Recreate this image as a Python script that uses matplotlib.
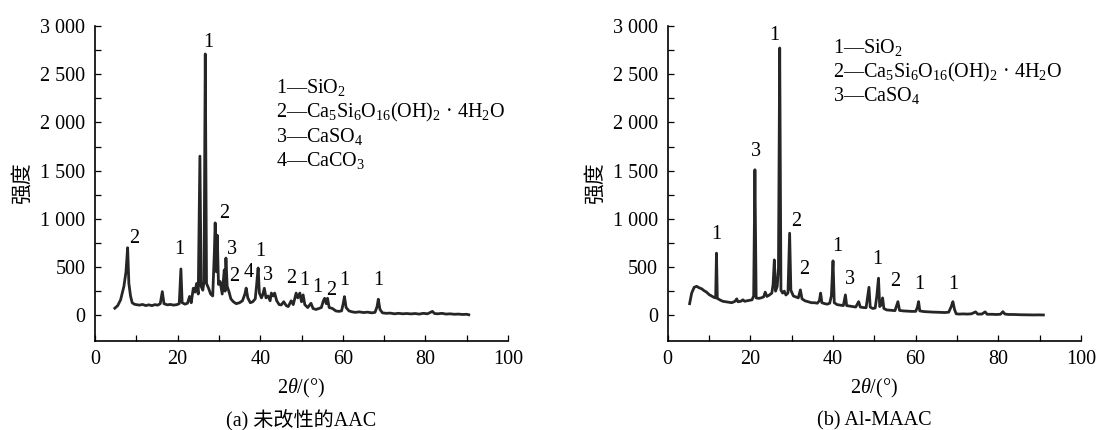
"""XRD patterns: unmodified AAC vs Al-MAAC (two panels)."""
import matplotlib
matplotlib.use("Agg")
import matplotlib.pyplot as plt
from matplotlib.ticker import FixedLocator, FuncFormatter

plt.rcParams["font.family"] = ["Liberation Serif", "Noto Sans CJK SC"]
plt.rcParams["mathtext.fontset"] = "custom"
plt.rcParams["mathtext.rm"] = "Liberation Serif"
plt.rcParams["mathtext.it"] = "Liberation Serif:italic"

# ---- (a) unmodified AAC : 2theta / intensity ----
aac_2theta = [4.8, 5.5, 6.2, 7.0, 7.5, 7.9, 8.2, 8.6, 9.0, 9.5, 10.0, 10.8, 11.5, 12.3,
              13.0, 13.8, 14.5, 15.2, 15.8, 16.3, 16.7, 17.5, 18.3, 19.0, 19.8, 20.4,
              20.8, 21.1, 21.8, 22.4, 22.9, 23.3, 23.8, 24.2, 24.6, 25.0, 25.4, 25.7,
              26.1, 26.4, 26.7, 27.0, 27.5, 28.0, 28.5, 28.9, 29.1, 29.4, 29.6, 29.9,
              30.3, 30.8, 31.3, 31.5, 31.7, 32.0, 32.4, 32.9, 33.5, 34.2, 35.0, 35.7,
              36.3, 36.6, 37.0, 37.6, 38.2, 38.8, 39.1, 39.5, 39.8, 40.3, 40.6, 41.0,
              41.4, 41.9, 42.4, 42.7, 43.1, 43.5, 44.0, 44.6, 45.1, 45.7, 46.3, 46.8,
              47.5, 48.0, 48.7, 49.1, 49.6, 50.0, 50.4, 50.8, 51.5, 52.3, 52.8, 53.5,
              54.2, 54.8, 55.3, 55.6, 56.0, 56.3, 56.7, 57.5, 58.3, 59.0, 59.7, 60.1,
              60.4, 60.8, 61.5, 62.3, 63.0, 64.0, 65.0, 66.0, 67.0, 67.8, 68.3, 68.6,
              69.0, 69.6, 70.5, 71.5, 72.5, 73.5, 74.5, 75.5, 76.5, 77.5, 78.5, 79.5,
              80.5, 81.2, 81.7, 82.2, 83.0, 84.0, 85.0, 86.0, 87.0, 88.0, 89.0, 90.0,
              90.5]
aac_int = [73, 100, 160, 300, 450, 700, 330, 200, 130, 115, 110, 105, 112, 100,
           108, 100, 110, 105, 120, 245, 120, 108, 112, 105, 110, 120,
           480, 130, 115, 125, 195, 130, 280, 240, 330, 220, 1650, 300,
           260, 350, 2710, 330, 280, 220, 200, 650, 958, 450, 830, 320,
           350, 220, 470, 250, 593, 300, 250, 170, 140, 120, 130, 150,
           220, 281, 180, 130, 140, 170, 300, 490, 230, 180, 210, 280,
           180, 200, 150, 230, 200, 230, 150, 110, 107, 140, 100, 90,
           150, 110, 230, 180, 230, 140, 211, 110, 80, 124, 70, 60,
           70, 80, 150, 176, 120, 176, 80, 70, 45, 40, 45, 120,
           193, 80, 45, 35, 30, 35, 28, 32, 25, 30, 90, 166,
           60, 25, 20, 22, 15, 20, 15, 18, 14, 18, 12, 20,
           15, 30, 40, 18, 15, 20, 12, 15, 10, 12, 8, 10,
           5]

# ---- (b) Al-MAAC ----
maac_2theta = [5.3, 5.8, 6.4, 7.0, 7.6, 8.2, 8.8, 9.4, 10.0, 10.6, 11.2, 11.6, 11.8,
               12.0, 12.6, 13.3, 14.0, 14.8, 15.5, 16.3, 16.7, 17.0, 17.7, 18.2, 18.6,
               19.2, 19.8, 20.4, 20.8, 21.1, 21.4, 22.0, 22.6, 23.2, 23.6, 24.0, 24.6,
               25.2, 25.5, 25.8, 26.1, 26.5, 26.8, 27.1, 27.4, 27.8, 28.2, 28.6, 29.1,
               29.5, 29.8, 30.4, 31.0, 31.6, 32.1, 32.5, 33.2, 34.0, 34.8, 35.5, 36.2,
               36.7, 37.0, 37.3, 38.0, 38.6, 39.2, 39.6, 40.0, 40.3, 41.0, 41.8, 42.5,
               43.0, 43.3, 44.0, 44.8, 45.5, 46.2, 46.6, 47.3, 48.0, 48.7, 49.0, 49.6,
               50.2, 50.6, 51.0, 51.3, 51.7, 52.0, 52.3, 53.0, 54.0, 55.0, 55.7, 56.1,
               57.0, 58.0, 59.0, 60.0, 60.4, 60.7, 61.0, 62.0, 63.0, 64.0, 65.0, 66.0,
               67.0, 68.0, 68.6, 69.0, 69.4, 69.8, 70.5, 71.5, 72.5, 73.5, 74.5, 75.0,
               76.0, 76.8, 77.3, 78.5, 79.5, 80.5, 81.1, 81.6, 82.5, 83.5, 84.5, 85.5,
               86.5, 87.5, 88.5, 89.5, 90.9]
maac_int = [120, 230, 290, 300, 285, 275, 255, 240, 215, 200, 185, 180, 644,
            175, 160, 145, 140, 135, 130, 145, 170, 140, 145, 160, 145,
            150, 155, 160, 200, 1509, 180, 175, 180, 190, 240, 195, 210,
            230, 320, 574, 250, 300, 488, 2772, 260, 230, 250, 210, 230,
            851, 260, 200, 190, 180, 263, 170, 150, 140, 130, 130, 125,
            150, 230, 130, 120, 115, 125, 200, 564, 130, 110, 105, 100,
            211, 100, 95, 90, 85, 141, 85, 80, 78, 290, 85, 70,
            75, 200, 384, 90, 110, 180, 70, 55, 52, 48, 141, 50,
            45, 42, 40, 40, 80, 141, 45, 38, 35, 33, 32, 30,
            28, 32, 90, 141, 60, 15, 12, 14, 12, 15, 35, 12,
            12, 35, 10, 10, 8, 10, 37, 12, 8, 8, 6, 5,
            5, 4, 3, 4, 3]

# peak markers (phase number placed above each peak)
aac_mark_x = [9.4, 20.5, 27.4, 31.4, 33.1, 33.7, 37.3, 40.0, 42.0, 47.6, 50.7, 53.9, 57.1, 60.4, 68.6]
aac_mark_y = [800, 678, 2825, 1059, 678, 401, 442, 660, 408, 377, 359, 291, 252, 359, 359]
aac_mark = ["2", "1", "1", "2", "3", "2", "4", "1", "3", "2", "1", "1", "2", "1", "1"]

maac_mark_x = [11.8, 21.3, 25.7, 31.0, 33.1, 41.1, 44.2, 50.8, 55.1, 60.8, 69.0]
maac_mark_y = [834, 1699, 2900, 972, 470, 712, 367, 574, 349, 315, 315]
maac_mark = ["1", "3", "1", "2", "2", "1", "3", "1", "2", "1", "1"]

aac_phases = ["1—SiO$_2$", "2—Ca$_5$Si$_6$O$_{16}$(OH)$_2$ · 4H$_2$O",
              "3—CaSO$_4$", "4—CaCO$_3$"]
maac_phases = ["1—SiO$_2$", "2—Ca$_5$Si$_6$O$_{16}$(OH)$_2$ · 4H$_2$O", "3—CaSO$_4$"]

W, H = 1096, 430
fig = plt.figure(figsize=(W / 100, H / 100), dpi=100)
ax_a = fig.add_axes([95 / W, 1 - 340.7 / H, 413 / W, 314.7 / H])
ax_b = fig.add_axes([667.7 / W, 1 - 340.7 / H, 413.3 / W, 314.7 / H])

fmt = FuncFormatter(lambda v, _: f"{int(v):,}".replace(",", " "))


def style(ax):
    ax.set_xlim(0, 100)
    ax.set_ylim(-264, 3000)
    for s in ("top", "right"):
        ax.spines[s].set_visible(False)
    for s in ("left", "bottom"):
        ax.spines[s].set_linewidth(1.2)
    ax.xaxis.set_major_locator(FixedLocator(range(0, 101, 20)))
    ax.xaxis.set_minor_locator(FixedLocator(range(10, 100, 20)))
    ax.yaxis.set_major_locator(FixedLocator(range(0, 3001, 500)))
    ax.yaxis.set_minor_locator(FixedLocator(range(250, 3000, 500)))
    ax.yaxis.set_major_formatter(fmt)
    ax.tick_params(which="both", direction="in", length=4, width=0.9)
    ax.tick_params(axis="y", labelsize=14.5, pad=7)
    ax.tick_params(axis="x", labelsize=14.5, pad=7)


for ax, xs, ys, mx, my, mk, phases, px, py in [
        (ax_a, aac_2theta, aac_int, aac_mark_x, aac_mark_y, aac_mark, aac_phases, 43.9,
         [2305, 2046, 1793, 1543]),
        (ax_b, maac_2theta, maac_int, maac_mark_x, maac_mark_y, maac_mark, maac_phases, 40.0,
         [2720, 2467, 2218])]:
    style(ax)
    ax.plot(xs, ys, color="#262626", lw=2.0, solid_joinstyle="round")
    for x, y, t in zip(mx, my, mk):
        ax.text(x, y, t, fontsize=14.5, ha="center", va="center")
    for t, y in zip(phases, py):
        ax.text(px, y, t, fontsize=14.5, ha="left", va="baseline")

fig.text(22 / W, 1 - 183 / H, "强度", rotation=90, fontsize=15, ha="center", va="center",
         family=["Noto Sans CJK SC"])
fig.text(595 / W, 1 - 183 / H, "强度", rotation=90, fontsize=15, ha="center", va="center",
         family=["Noto Sans CJK SC"])
fig.text(301.5 / W, 1 - 388 / H, r"2$\it{\theta}$/(°)", fontsize=14.5, ha="center", va="center")
fig.text(874.4 / W, 1 - 388 / H, r"2$\it{\theta}$/(°)", fontsize=14.5, ha="center", va="center")
fig.text(301.5 / W, 1 - 421 / H, "(a) 未改性的AAC", fontsize=14.5, ha="center", va="center")
fig.text(874.4 / W, 1 - 421 / H, "(b) Al-MAAC", fontsize=14.5, ha="center", va="center")

fig.savefig("out.png", dpi=100)
